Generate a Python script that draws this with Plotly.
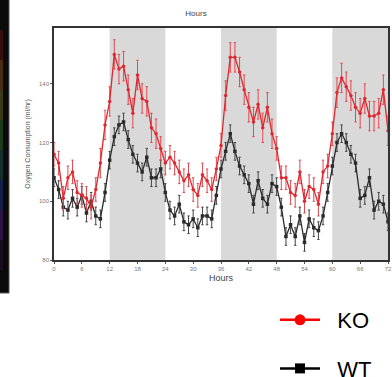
import plotly.graph_objects as go

HOURS = list(range(0, 73))

KO = [116, 113, 101, 108, 110, 103, 102, 101, 98, 104, 113, 126, 134,
      150, 145, 146, 138, 130, 143, 135, 134, 125, 123, 118,
      113, 115, 113, 110, 107, 109, 104, 102, 109, 107, 104, 111, 119,
      136, 149, 149, 144, 138, 132, 127, 133, 125, 132, 123,
      118, 108, 108, 103, 102, 110, 100, 105, 104, 99, 110, 112, 123,
      137, 142, 139, 136, 132, 130, 135, 129, 129, 130, 138, 124]

WT = [108, 104, 98, 97, 101, 98, 102, 96, 100, 95, 94, 103, 114,
      122, 126, 127, 121, 116, 113, 110, 115, 108, 108, 111,
      103, 97, 95, 99, 93, 92, 94, 91, 95, 95, 94, 102, 111,
      117, 123, 117, 112, 109, 106, 99, 107, 101, 99, 106,
      105, 98, 88, 92, 88, 95, 86, 94, 91, 90, 95, 103, 112,
      120, 123, 120, 116, 113, 101, 102, 108, 97, 100, 99, 93]

KO_ERR = [4, 4, 4, 4, 4, 4, 4, 4, 4, 4, 5, 5, 5,
          5, 5, 5, 5, 5, 5, 5, 5, 5, 5, 4,
          4, 4, 4, 4, 4, 4, 4, 4, 4, 4, 4, 4, 4,
          5, 5, 5, 5, 5, 5, 5, 5, 5, 5, 5,
          4, 4, 4, 4, 4, 4, 4, 4, 4, 4, 4, 4, 4,
          5, 5, 5, 5, 5, 5, 5, 5, 5, 5, 5, 5]

WT_ERR = [3, 3, 3, 3, 3, 3, 3, 3, 3, 3, 3, 3, 3,
          3, 3, 3, 3, 3, 3, 3, 3, 3, 3, 3,
          3, 3, 3, 3, 3, 3, 3, 3, 3, 3, 3, 3, 3,
          3, 3, 3, 3, 3, 3, 3, 3, 3, 3, 3,
          3, 3, 3, 3, 3, 3, 3, 3, 3, 3, 3, 3, 3,
          3, 3, 3, 3, 3, 3, 3, 3, 3, 3, 3, 3]

DARK_PERIODS = [(12, 24), (36, 48), (60, 72)]
X_TICKS = [0, 6, 12, 18, 24, 30, 36, 42, 48, 54, 60, 66, 72]
Y_TICKS = [80, 100, 120, 140]
SERIES_NAMES = ["KO", "WT"]

RED = "#e0262e"
BLACK = "#2b2b2b"

fig = go.Figure()

for x0, x1 in DARK_PERIODS:
    fig.add_vrect(x0=x0, x1=x1, fillcolor="#d9d9d9", opacity=1, line_width=0, layer="below")

fig.add_trace(go.Scatter(
    x=HOURS, y=WT, mode="lines+markers", name=SERIES_NAMES[1], showlegend=False,
    line=dict(color=BLACK, width=1.3),
    marker=dict(symbol="square", size=3.5, color=BLACK),
    error_y=dict(type="data", array=WT_ERR, color="#444444", thickness=1, width=1.2),
))
fig.add_trace(go.Scatter(
    x=HOURS, y=KO, mode="lines+markers", name=SERIES_NAMES[0], showlegend=False,
    line=dict(color=RED, width=1.3),
    marker=dict(symbol="circle", size=3.5, color=RED),
    error_y=dict(type="data", array=KO_ERR, color="#e04a50", thickness=1, width=1.2),
))

# legend entries
NBSP = "\u00a0\u00a0"
fig.add_trace(go.Scatter(
    x=[None], y=[None], mode="lines+markers", name=NBSP + SERIES_NAMES[0], legendgroup="ko",
    line=dict(color="#ff0000", width=2.5),
    marker=dict(symbol="circle", size=11, color="#ff0000"),
))
fig.add_trace(go.Scatter(
    x=[None], y=[None], mode="lines+markers", name=NBSP + SERIES_NAMES[1], legendgroup="wt",
    line=dict(color="#000000", width=2.5),
    marker=dict(symbol="square", size=10, color="#000000"),
))

# left dark strip (edge of neighbouring panel)
def px_x(p):
    return (p - 54) / 334.0

def px_y(p):
    return (260 - p) / 232.0

fig.add_shape(type="rect", xref="paper", yref="paper",
              x0=px_x(-2), x1=px_x(9), y0=px_y(293), y1=px_y(-2),
              fillcolor="#0a0a0a", line=dict(color="#555555", width=1), layer="above")
STRIP_COLORS = ["#3a0d0d", "#4a2a10", "#3c3a12", "#1e3a18", "#123030", "#14204a", "#2a1448", "#1a0d22"]
for i, c in enumerate(STRIP_COLORS):
    y_top = 30 + i * 30
    fig.add_shape(type="rect", xref="paper", yref="paper",
                  x0=px_x(0), x1=px_x(3), y0=px_y(y_top + 30), y1=px_y(y_top),
                  fillcolor=c, line_width=0, layer="above")

fig.update_layout(
    width=392, height=377,
    margin=dict(l=54, r=4, t=28, b=117, autoexpand=False),
    paper_bgcolor="white", plot_bgcolor="white",
    font=dict(family="Liberation Sans, Arial, sans-serif", color="#555555"),
    title=dict(text="Hours", x=0.5, xanchor="center", y=1 - 13 / 377, yanchor="middle",
               font=dict(size=8, color="#444444")),
    legend=dict(
        x=px_x(275), y=px_y(299), xanchor="left", yanchor="top",
        font=dict(size=22, color="#000000"),
        traceorder="grouped", tracegroupgap=17,
        itemwidth=40, bgcolor="rgba(0,0,0,0)",
    ),
    showlegend=True,
)

fig.update_xaxes(
    range=[0, 72], tickvals=X_TICKS, ticks="outside", ticklen=2, tickwidth=1,
    tickcolor="#555555", tickfont=dict(size=6, color="#777777"),
    showline=True, linecolor="#333333", linewidth=1.5, mirror=True,
    showgrid=False, zeroline=False,
    title=dict(text="Hours", font=dict(size=9, color="#444444"), standoff=4),
)
fig.update_yaxes(
    range=[80, 159], tickvals=Y_TICKS, ticks="outside", ticklen=2, tickwidth=1,
    tickcolor="#555555", tickfont=dict(size=6, color="#777777"),
    showline=True, linecolor="#333333", linewidth=1.5, mirror=True,
    showgrid=False, zeroline=False,
    title=dict(text="Oxygen Consumption (ml/hr)", font=dict(size=7, color="#555555"), standoff=8),
)

fig.write_html("out.html", config={"displayModeBar": False},
               post_script="document.body.style.margin='0px';")
